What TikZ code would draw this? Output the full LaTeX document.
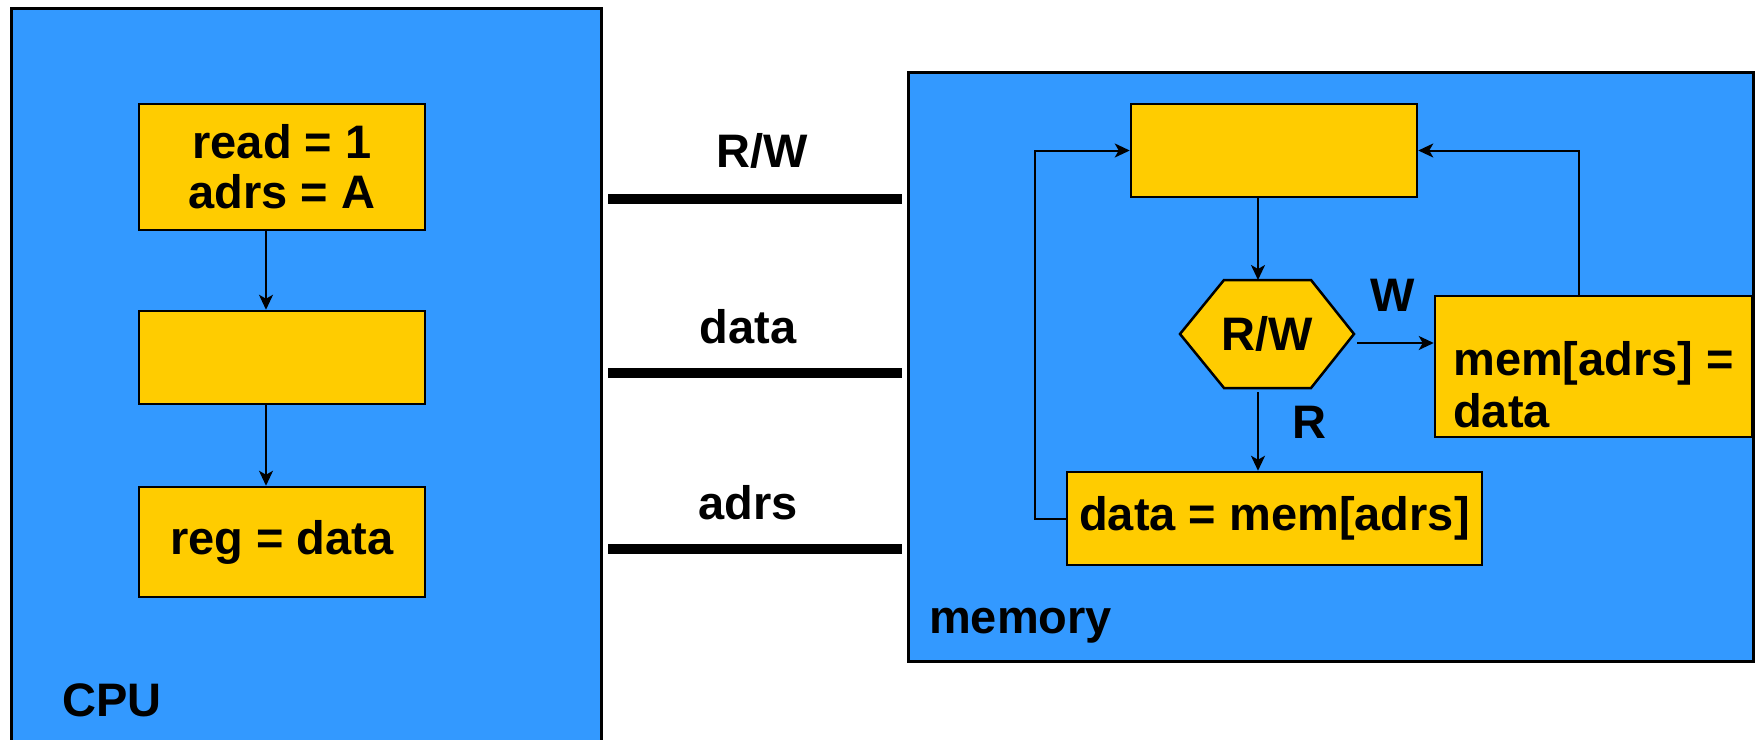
\documentclass[tikz,border=0pt]{standalone}
\usepackage{fontspec}
\setmainfont{Liberation Sans}
\usetikzlibrary{arrows.meta}
\definecolor{cpublue}{HTML}{3399FF}
\definecolor{boxyel}{HTML}{FFCC00}
\begin{document}
\begin{tikzpicture}[x=1pt,y=-1pt,
  font=\bfseries\fontsize{47}{50}\selectfont,
  outer/.style={draw=black, line width=3pt, fill=cpublue, inner sep=0pt},
  ybox/.style={draw=black, line width=2.5pt, fill=boxyel, inner sep=0pt, align=center},
  arr/.style={line width=2pt, -{Stealth[length=15pt,width=14pt,inset=4pt]}},
  bus/.style={line width=10pt},
  lbl/.style={anchor=base, inner sep=0pt}]
\useasboundingbox (0,0) rectangle (1756,739);
\fill[white] (0,0) rectangle (1756,739);
% CPU
\node[outer, minimum width=590pt, minimum height=737pt] (cpu) at (306,376.5) {};
\node[lbl, anchor=base west] (cpulbl) at (62,716) {CPU};
\node[ybox, minimum width=286pt, minimum height=126pt] (b1) at (282,167) {read = 1\\adrs = A};
\node[ybox, minimum width=286pt, minimum height=93pt] (b2) at (282,357.5) {};
\node[ybox, minimum width=286pt, minimum height=110pt] (b3) at (282,542) {reg = data};
\coordinate (ax) at (266,0);
\draw[arr] (b1.south -| ax) -- (b2.north -| ax);
\draw[arr] (b2.south -| ax) -- (b3.north -| ax);
% buses
\coordinate (rw1) at (608,199); \coordinate (rw2) at (902,199);
\coordinate (d1) at (608,373);  \coordinate (d2) at (902,373);
\coordinate (a1) at (608,549);  \coordinate (a2) at (902,549);
\draw[bus] (rw1) -- (rw2);
\draw[bus] (d1) -- (d2);
\draw[bus] (a1) -- (a2);
\node[lbl] (rwlbl) at (762,167) {R/W};
\node[lbl] (dlbl) at (748,343) {data};
\node[lbl] (albl) at (748,519) {adrs};
% memory
\node[outer, minimum width=845pt, minimum height=589pt] (mem) at (1330.5,366.5) {};
\node[lbl, anchor=base west] (memlbl) at (929,633) {memory};
\node[ybox, minimum width=286pt, minimum height=93pt] (top) at (1274,150.5) {};
\coordinate (h1) at (1180,334); \coordinate (h2) at (1224,280);
\coordinate (h3) at (1311,280); \coordinate (h4) at (1354,334);
\coordinate (h5) at (1311,388); \coordinate (h6) at (1224,388);
\draw[line width=2.5pt, fill=boxyel, line join=miter] (h1) -- (h2) -- (h3) -- (h4) -- (h5) -- (h6) -- cycle;
\node[inner sep=0pt] (hex) at (1267,334) {R/W};
\node[ybox, minimum width=317pt, minimum height=141pt] (wbox) at (1593.5,366.5) {};
\node[lbl, anchor=base west] (wt1) at (1453,375) {mem[adrs] =};
\node[lbl, anchor=base west] (wt2) at (1453,427) {data};
\node[ybox, minimum width=415pt, minimum height=93pt] (rbox) at (1274.5,518.5) {data = mem[adrs]};
\coordinate (vx) at (1258,0);
\draw[arr] (top.south -| vx) -- (h2 -| vx);
\draw[arr] (1258,392) -- (rbox.north -| vx);
\coordinate (hr) at (1357,343);
\draw[arr] (hr) -- (hr -| wbox.west);
\node[lbl] (wlbl) at (1393,311) {W};
\node[lbl] (rlbl) at (1309,438) {R};
\coordinate (lx) at (1035,0);
\coordinate (rx) at (1579,0);
\draw[arr] (rbox.west) -- (rbox.west -| lx) |- (top.west);
\draw[arr] (wbox.north -| rx) |- (top.east);
\end{tikzpicture}
\end{document}
